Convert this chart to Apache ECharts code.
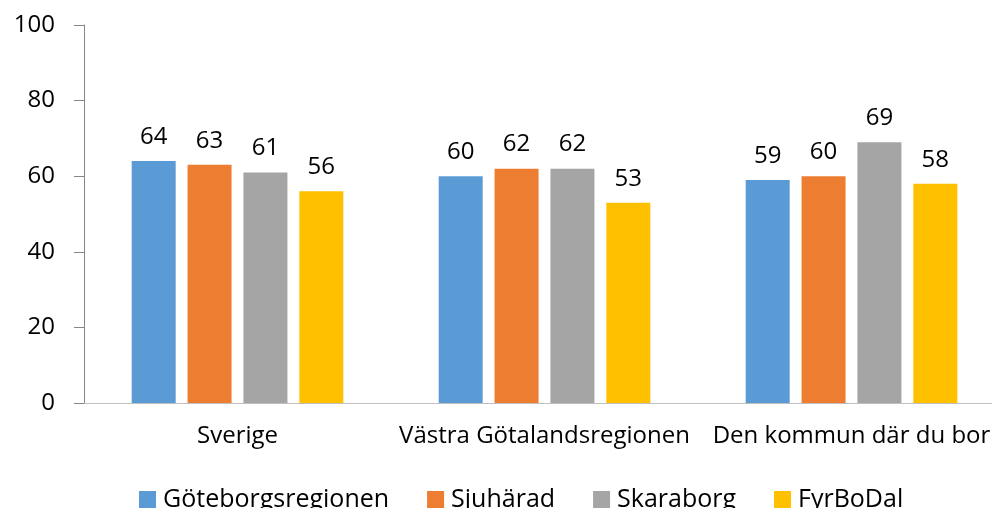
<!DOCTYPE html>
<html>
<head>
<meta charset="utf-8">
<script src="https://cdn.jsdelivr.net/npm/echarts@6/dist/echarts.min.js"></script>
<style>
  html, body { margin: 0; padding: 0; background: #fff; overflow: hidden; width: 992px; height: 508px; }
  /* diagrammet är bredare än fönstret, högerkanten klipps som i originalet */
  #chart { width: 1005px; height: 508px; }
</style>
</head>
<body>
<div id="chart"></div>
<script>
    // kategorier och serier
    var categories = ['Sverige', 'Västra Götalandsregionen', 'Den kommun där du bor'];
    var goteborg = [64, 60, 59];
    var sjuharad = [63, 62, 60];
    var skaraborg = [61, 62, 69];
    var fyrbodal = [56, 53, 58];
    var yTicks = [0, 20, 40, 60, 80, 100];

    var font = '"Open Sans", sans-serif';
    var chart = echarts.init(document.getElementById('chart'));

    function bar(name, data) {
        return {
            name: name,
            type: 'bar',
            barWidth: 44,
            barGap: '27%',
            data: data,
            label: {
                show: true,
                position: 'top',
                distance: 12,
                color: '#000',
                fontSize: 24,
                fontFamily: font
            }
        };
    }

    option = {
        animation: false,
        color: ['#5B9BD5', '#ED7D31', '#A5A5A5', '#FFC000'],
        legend: {
            bottom: -9,
            left: 134,
            itemWidth: 17,
            itemHeight: 17,
            itemGap: 38,
            icon: 'rect',
            textStyle: { color: '#000', fontSize: 25, fontFamily: font, padding: [0, 0, 0, 2] },
            data: ['Göteborgsregionen', 'Sjuhärad', 'Skaraborg', 'FyrBoDal']
        },
        grid: {
            left: 84,
            right: 0,
            top: 25,
            bottom: 105,
            containLabel: false
        },
        xAxis: {
            type: 'category',
            data: categories,
            axisLine: { show: true, lineStyle: { color: '#bfbfbf', width: 1 } },
            axisTick: { show: false },
            axisLabel: { color: '#000', fontSize: 24, fontFamily: font, margin: 21, interval: 0 }
        },
        yAxis: {
            type: 'value',
            min: yTicks[0],
            max: yTicks[yTicks.length - 1],
            interval: yTicks[1] - yTicks[0],
            splitLine: { show: false },
            axisLine: { show: true, lineStyle: { color: '#868686' } },
            axisTick: { show: true, length: 10, lineStyle: { color: '#868686' } },
            axisLabel: { color: '#000', fontSize: 24, fontFamily: font, margin: 29 }
        },
        series: [
            bar('Göteborgsregionen', goteborg),
            bar('Sjuhärad', sjuharad),
            bar('Skaraborg', skaraborg),
            bar('FyrBoDal', fyrbodal)
        ]
    };
    chart.setOption(option);
</script>
</body>
</html>
